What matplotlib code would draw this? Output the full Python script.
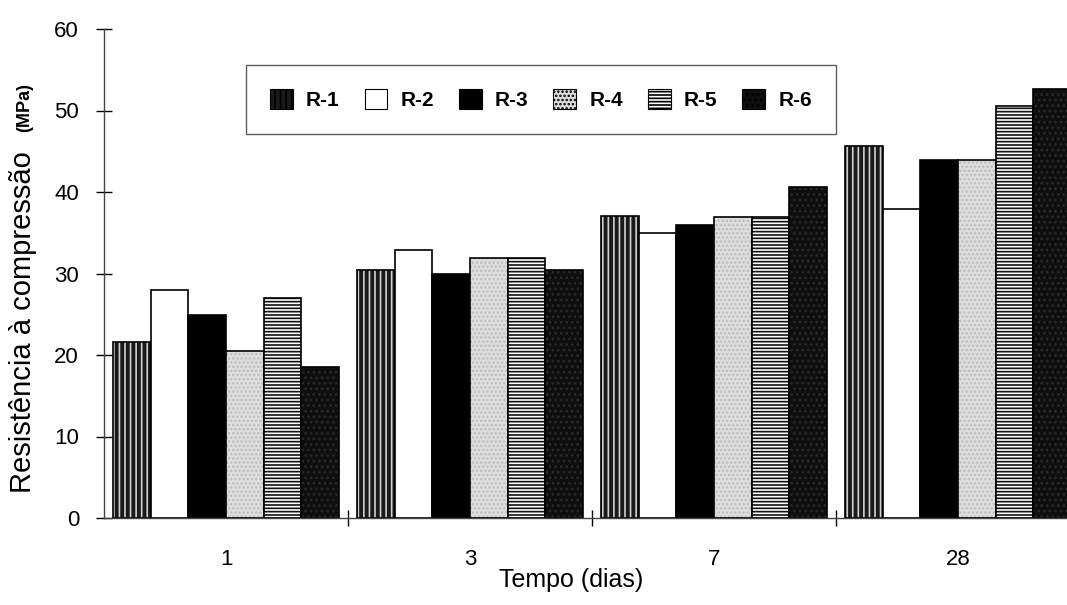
import numpy as np
import matplotlib.pyplot as plt
from matplotlib.patches import Patch

plt.rcParams['font.family'] = ['Liberation Sans', 'DejaVu Sans']
plt.rcParams['hatch.linewidth'] = 1.2

# 圧縮強度データ (MPa)
dias = ['1', '3', '7', '28']
series = ['R-1', 'R-2', 'R-3', 'R-4', 'R-5', 'R-6']
r1 = [21.6, 30.4, 37.0, 45.6]
r2 = [28.0, 32.9, 35.0, 37.9]
r3 = [24.9, 29.9, 36.0, 43.9]
r4 = [20.5, 31.9, 36.9, 43.9]
r5 = [27.0, 31.9, 36.9, 50.6]
r6 = [18.5, 30.4, 40.6, 52.6]
valores = [r1, r2, r3, r4, r5, r6]

# 各系列の塗り (face, hatch, hatch色)
estilos = [
    ('#1a1a1a', '|||', '#d0d0d0'),
    ('white', '', 'black'),
    ('black', '', 'black'),
    ('#dedede', '....', '#bcbcbc'),
    ('white', '-----', '#111111'),
    ('#0e0e0e', '...', '#2a2a2a'),
]

fig = plt.figure(figsize=(10.67, 6.05), dpi=100)
ax = fig.add_axes([104 / 1067, 1 - 518 / 605, 976 / 1067, 489 / 605])

x = np.arange(len(dias))
w = 0.1543
for i, vals in enumerate(valores):
    fc, hatch, hc = estilos[i]
    pos = x - 2.5 * w + i * w
    ax.bar(pos, vals, w, color=fc, edgecolor=hc, hatch=hatch, linewidth=0)
    ax.bar(pos, vals, w, fill=False, edgecolor='black', linewidth=1.2)

ax.set_xlim(-0.5, 3.5)
ax.set_ylim(0, 60)
ax.set_yticks(np.arange(0, 61, 10))
ax.set_xticks([0.5, 1.5, 2.5, 3.5])
ax.set_xticklabels([])
ax.set_xticks(x, minor=True)
ax.set_xticklabels(dias, minor=True)
ax.tick_params(axis='x', which='minor', length=0, pad=22, labelsize=16)
ax.tick_params(axis='x', which='major', direction='inout', length=12, width=1)
ax.tick_params(axis='y', direction='inout', length=12, width=1, labelsize=16, pad=12)
for s in ['top', 'right']:
    ax.spines[s].set_visible(False)
for s in ['left', 'bottom']:
    ax.spines[s].set_linewidth(1.0)
    ax.spines[s].set_color('#444444')

ax.set_xlabel('Tempo (dias)', fontsize=18)
ax.xaxis.set_label_coords(0.4785, -0.102)

# 縦軸ラベル: 単位だけ太字・小さめ
fig.text(0.022, 1 - 322 / 605, 'Resistência à compressão', rotation=90,
         fontsize=21, ha='center', va='center')
fig.text(0.023, 1 - 108 / 605, '(MPa)', rotation=90, fontsize=13,
         fontweight='bold', ha='center', va='center')

handles = [Patch(facecolor=fc, edgecolor=hc, hatch=h) for fc, h, hc in estilos]
leg = fig.legend(handles, series, loc='upper left', borderaxespad=0,
                 bbox_to_anchor=(246 / 1067, 1 - 65 / 605), ncol=6,
                 frameon=True, fancybox=False, handlelength=1.1, handleheight=1.1,
                 handletextpad=0.62, columnspacing=1.2, borderpad=1.15,
                 prop={'size': 15, 'weight': 'bold'})
leg.get_frame().set_edgecolor('#333333')
leg.get_frame().set_linewidth(1.0)
for hd in leg.legend_handles:
    hd.set_edgecolor('black')
    hd.set_linewidth(0.8)

fig.savefig('out.png', dpi=100)
